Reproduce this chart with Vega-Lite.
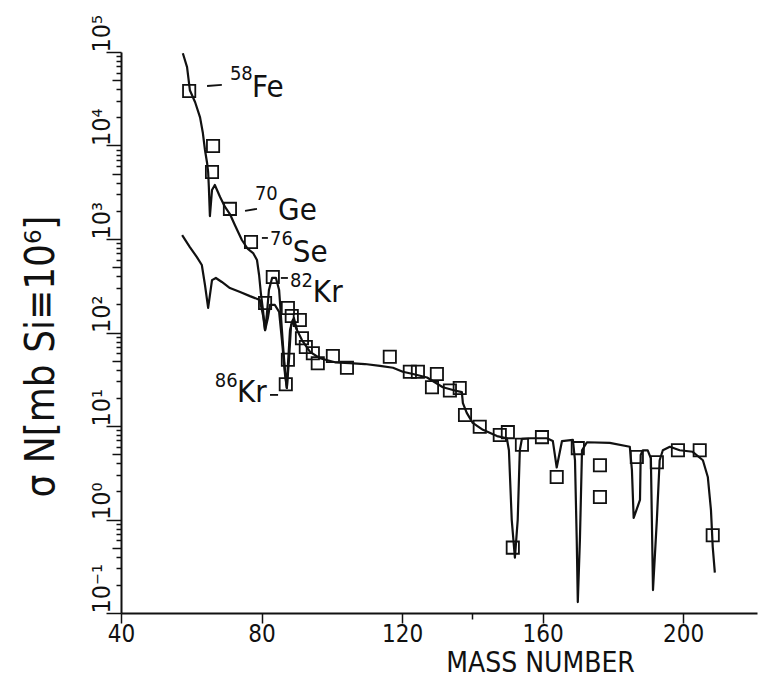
{
  "$schema": "https://vega.github.io/schema/vega-lite/v6.json",
  "width": 636,
  "height": 561,
  "autosize": {"type": "none"},
  "padding": {"left": 121, "top": 52, "right": 2, "bottom": 66},
  "background": "white",
  "config": {
    "view": {"stroke": null},
    "font": "Liberation Sans Narrow, DejaVu Sans Condensed, sans-serif",
    "axis": {"grid": false, "domainColor": "#111", "tickColor": "#111", "labelColor": "#111", "titleColor": "#111", "titleFontWeight": "normal"}
  },
  "datasets": {
    "curves": [
      {"i": 1, "s": "a", "A": 57.6, "v": 97000},
      {"i": 2, "s": "a", "A": 58.8, "v": 69000},
      {"i": 3, "s": "a", "A": 59.6, "v": 39000},
      {"i": 4, "s": "a", "A": 61.1, "v": 29000},
      {"i": 5, "s": "a", "A": 62.5, "v": 20000},
      {"i": 6, "s": "a", "A": 63.3, "v": 13600},
      {"i": 7, "s": "a", "A": 63.9, "v": 8950},
      {"i": 8, "s": "a", "A": 64.5, "v": 6500},
      {"i": 9, "s": "a", "A": 64.8, "v": 5200},
      {"i": 10, "s": "a", "A": 65.0, "v": 3600},
      {"i": 11, "s": "a", "A": 65.3, "v": 1760},
      {"i": 12, "s": "a", "A": 65.9, "v": 3340},
      {"i": 13, "s": "a", "A": 66.7, "v": 3780},
      {"i": 14, "s": "a", "A": 68.2, "v": 2810},
      {"i": 15, "s": "a", "A": 69.6, "v": 2200},
      {"i": 16, "s": "a", "A": 71.0, "v": 1850},
      {"i": 17, "s": "a", "A": 72.4, "v": 1410},
      {"i": 18, "s": "a", "A": 74.4, "v": 976},
      {"i": 19, "s": "a", "A": 76.1, "v": 782},
      {"i": 20, "s": "a", "A": 77.6, "v": 708},
      {"i": 21, "s": "a", "A": 78.7, "v": 596},
      {"i": 22, "s": "a", "A": 79.3, "v": 412},
      {"i": 23, "s": "a", "A": 79.8, "v": 264},
      {"i": 24, "s": "a", "A": 80.4, "v": 174},
      {"i": 25, "s": "a", "A": 81.0, "v": 106},
      {"i": 26, "s": "a", "A": 81.5, "v": 154},
      {"i": 27, "s": "a", "A": 82.1, "v": 285},
      {"i": 28, "s": "a", "A": 83.0, "v": 383},
      {"i": 29, "s": "a", "A": 84.1, "v": 383},
      {"i": 30, "s": "a", "A": 85.0, "v": 285},
      {"i": 31, "s": "a", "A": 85.5, "v": 154},
      {"i": 32, "s": "a", "A": 86.1, "v": 73},
      {"i": 33, "s": "a", "A": 86.7, "v": 38},
      {"i": 34, "s": "a", "A": 87.2, "v": 25.5},
      {"i": 35, "s": "a", "A": 87.5, "v": 45},
      {"i": 36, "s": "a", "A": 88.1, "v": 106},
      {"i": 37, "s": "a", "A": 88.9, "v": 136},
      {"i": 38, "s": "a", "A": 90.1, "v": 106},
      {"i": 39, "s": "a", "A": 91.5, "v": 83},
      {"i": 40, "s": "a", "A": 93.8, "v": 62},
      {"i": 41, "s": "a", "A": 96.6, "v": 53},
      {"i": 42, "s": "a", "A": 100.9, "v": 48},
      {"i": 43, "s": "a", "A": 105.1, "v": 47},
      {"i": 44, "s": "a", "A": 109.4, "v": 46},
      {"i": 45, "s": "a", "A": 113.7, "v": 44},
      {"i": 46, "s": "a", "A": 117.4, "v": 42},
      {"i": 47, "s": "a", "A": 120.2, "v": 38},
      {"i": 48, "s": "a", "A": 123.1, "v": 36},
      {"i": 49, "s": "a", "A": 127.1, "v": 33},
      {"i": 50, "s": "a", "A": 131.6, "v": 26},
      {"i": 51, "s": "a", "A": 135.0, "v": 24},
      {"i": 52, "s": "a", "A": 137.0, "v": 23},
      {"i": 53, "s": "a", "A": 137.3, "v": 17.6},
      {"i": 54, "s": "a", "A": 138.4, "v": 13.8},
      {"i": 55, "s": "a", "A": 140.1, "v": 10.8},
      {"i": 56, "s": "a", "A": 143.0, "v": 9.1},
      {"i": 57, "s": "a", "A": 147.0, "v": 7.8},
      {"i": 58, "s": "a", "A": 149.8, "v": 7.4},
      {"i": 59, "s": "a", "A": 150.4, "v": 5.5},
      {"i": 60, "s": "a", "A": 151.2, "v": 0.99},
      {"i": 61, "s": "a", "A": 152.1, "v": 0.39},
      {"i": 62, "s": "a", "A": 152.9, "v": 0.99},
      {"i": 63, "s": "a", "A": 153.5, "v": 5.5},
      {"i": 64, "s": "a", "A": 154.1, "v": 7.3},
      {"i": 65, "s": "a", "A": 156.4, "v": 7.4},
      {"i": 66, "s": "a", "A": 161.2, "v": 7.4},
      {"i": 67, "s": "a", "A": 162.9, "v": 6.9},
      {"i": 68, "s": "a", "A": 164.0, "v": 3.6},
      {"i": 69, "s": "a", "A": 165.5, "v": 6.9},
      {"i": 70, "s": "a", "A": 168.6, "v": 7.1},
      {"i": 71, "s": "a", "A": 169.2, "v": 4.3},
      {"i": 72, "s": "a", "A": 169.7, "v": 0.6},
      {"i": 73, "s": "a", "A": 170.0, "v": 0.131},
      {"i": 74, "s": "a", "A": 170.6, "v": 0.6},
      {"i": 75, "s": "a", "A": 171.2, "v": 5.5},
      {"i": 76, "s": "a", "A": 172.6, "v": 6.7},
      {"i": 77, "s": "a", "A": 179.1, "v": 6.6},
      {"i": 78, "s": "a", "A": 184.8, "v": 6.0},
      {"i": 79, "s": "a", "A": 185.4, "v": 3.4},
      {"i": 80, "s": "a", "A": 185.9, "v": 1.04},
      {"i": 81, "s": "a", "A": 187.7, "v": 1.62},
      {"i": 82, "s": "a", "A": 187.9, "v": 4.9},
      {"i": 83, "s": "a", "A": 188.5, "v": 5.5},
      {"i": 84, "s": "a", "A": 189.9, "v": 5.5},
      {"i": 85, "s": "a", "A": 190.8, "v": 4.5},
      {"i": 86, "s": "a", "A": 191.4, "v": 0.176},
      {"i": 87, "s": "a", "A": 192.5, "v": 0.99},
      {"i": 88, "s": "a", "A": 193.3, "v": 4.3},
      {"i": 89, "s": "a", "A": 194.2, "v": 5.5},
      {"i": 90, "s": "a", "A": 196.2, "v": 6.0},
      {"i": 91, "s": "a", "A": 199.0, "v": 5.5},
      {"i": 92, "s": "a", "A": 202.7, "v": 5.3},
      {"i": 93, "s": "a", "A": 205.6, "v": 4.3},
      {"i": 94, "s": "a", "A": 207.0, "v": 2.85},
      {"i": 95, "s": "a", "A": 207.9, "v": 1.26},
      {"i": 96, "s": "a", "A": 208.4, "v": 0.51},
      {"i": 97, "s": "a", "A": 209.0, "v": 0.27},
      {"i": 1, "s": "b", "A": 57.4, "v": 1100},
      {"i": 2, "s": "b", "A": 59.6, "v": 820},
      {"i": 3, "s": "b", "A": 61.6, "v": 640},
      {"i": 4, "s": "b", "A": 63.0, "v": 527},
      {"i": 5, "s": "b", "A": 63.9, "v": 322},
      {"i": 6, "s": "b", "A": 64.8, "v": 183},
      {"i": 7, "s": "b", "A": 65.9, "v": 363},
      {"i": 8, "s": "b", "A": 67.0, "v": 383},
      {"i": 9, "s": "b", "A": 68.7, "v": 347},
      {"i": 10, "s": "b", "A": 71.0, "v": 299},
      {"i": 11, "s": "b", "A": 73.9, "v": 271},
      {"i": 12, "s": "b", "A": 76.7, "v": 245},
      {"i": 13, "s": "b", "A": 79.5, "v": 223},
      {"i": 14, "s": "b", "A": 80.4, "v": 154},
      {"i": 15, "s": "b", "A": 81.0, "v": 106},
      {"i": 16, "s": "b", "A": 81.8, "v": 143},
      {"i": 17, "s": "b", "A": 82.4, "v": 197},
      {"i": 18, "s": "b", "A": 83.8, "v": 197},
      {"i": 19, "s": "b", "A": 85.0, "v": 166},
      {"i": 20, "s": "b", "A": 85.8, "v": 83},
      {"i": 21, "s": "b", "A": 86.7, "v": 35},
      {"i": 22, "s": "b", "A": 87.2, "v": 25.5},
      {"i": 23, "s": "b", "A": 87.8, "v": 51},
      {"i": 24, "s": "b", "A": 88.4, "v": 120},
      {"i": 25, "s": "b", "A": 89.2, "v": 143},
      {"i": 26, "s": "b", "A": 90.1, "v": 106}
    ],
    "squares": [
      {"A": 59.4, "v": 38300},
      {"A": 66.2, "v": 9900},
      {"A": 65.9, "v": 5200},
      {"A": 71.0, "v": 2100},
      {"A": 77.0, "v": 930},
      {"A": 81.0, "v": 207},
      {"A": 83.2, "v": 393},
      {"A": 87.5, "v": 183},
      {"A": 88.6, "v": 150},
      {"A": 90.9, "v": 136},
      {"A": 87.5, "v": 51},
      {"A": 86.9, "v": 28},
      {"A": 91.5, "v": 87},
      {"A": 92.6, "v": 70},
      {"A": 94.6, "v": 60},
      {"A": 96.0, "v": 47},
      {"A": 100.3, "v": 56},
      {"A": 104.3, "v": 42},
      {"A": 116.5, "v": 55},
      {"A": 122.2, "v": 38},
      {"A": 124.5, "v": 38},
      {"A": 129.9, "v": 36},
      {"A": 128.5, "v": 26},
      {"A": 133.6, "v": 24},
      {"A": 136.4, "v": 25.5},
      {"A": 137.9, "v": 13.1},
      {"A": 142.1, "v": 9.8},
      {"A": 147.8, "v": 8.0},
      {"A": 150.1, "v": 8.6},
      {"A": 154.1, "v": 6.3},
      {"A": 151.5, "v": 0.5},
      {"A": 159.8, "v": 7.6},
      {"A": 164.0, "v": 2.85},
      {"A": 170.0, "v": 5.8},
      {"A": 176.3, "v": 3.8},
      {"A": 176.3, "v": 1.74},
      {"A": 186.8, "v": 4.65},
      {"A": 192.5, "v": 4.1},
      {"A": 198.5, "v": 5.5},
      {"A": 204.7, "v": 5.5},
      {"A": 208.4, "v": 0.68}
    ],
    "labels": [
      {"kind": "main", "t": "Fe", "A": 77.3, "v": 33000},
      {"kind": "sup", "t": "58", "A": 71.0, "v": 50000},
      {"kind": "main", "t": "Ge", "A": 84.7, "v": 1600},
      {"kind": "sup", "t": "70", "A": 78.1, "v": 2610},
      {"kind": "main", "t": "Se", "A": 88.9, "v": 568},
      {"kind": "sup", "t": "76", "A": 82.4, "v": 863},
      {"kind": "main", "t": "Kr", "A": 94.6, "v": 212},
      {"kind": "sup", "t": "82", "A": 88.1, "v": 307},
      {"kind": "main", "t": "Kr", "A": 73.0, "v": 18.1},
      {"kind": "sup", "t": "86", "A": 66.7, "v": 26.1}
    ],
    "dashes": [
      {"A": 64.5, "A2": 68.7, "v": 43300, "v2": 44500},
      {"A": 75.3, "A2": 78.7, "v": 2000, "v2": 2100},
      {"A": 80.1, "A2": 81.8, "v": 1026, "v2": 1026},
      {"A": 85.5, "A2": 87.5, "v": 383, "v2": 383},
      {"A": 82.4, "A2": 84.7, "v": 21.5, "v2": 21.5}
    ]
  },
  "layer": [
    {
      "data": {"name": "curves"},
      "mark": {"type": "line", "color": "#111", "strokeWidth": 2.2, "strokeJoin": "round"},
      "encoding": {
        "x": {
          "field": "A", "type": "quantitative",
          "scale": {"domain": [40, 221], "nice": false, "zero": false},
          "axis": {
            "values": [40, 80, 120, 140, 160, 200],
            "labelExpr": "datum.value == 140 ? '' : datum.label",
            "tickSize": {"condition": {"test": "datum.value == 140", "value": 6}, "value": 10},
            "tickWidth": 1.5,
            "domainWidth": 2,
            "labelFontSize": 24,
            "labelPadding": -1,
            "labelFlush": false,
            "labelOverlap": false,
            "title": "MASS NUMBER",
            "titleFontSize": 28,
            "titleX": 419,
            "titleY": 58,
            "titleAlign": "center",
            "titleBaseline": "alphabetic"
          }
        },
        "y": {
          "field": "v", "type": "quantitative",
          "scale": {"type": "log", "domain": [0.1, 100000], "nice": false},
          "axis": {
            "values": [0.1,0.2,0.3,0.4,0.5,0.6,0.7,0.8,0.9,1,2,3,4,5,6,7,8,9,10,20,30,40,50,60,70,80,90,100,200,300,400,500,600,700,800,900,1000,2000,3000,4000,5000,6000,7000,8000,9000,10000,20000,30000,40000,50000,60000,70000,80000,90000,100000],
            "labelExpr": "datum.value == 100000 ? '10⁵' : datum.value == 10000 ? '10⁴' : datum.value == 1000 ? '10³' : datum.value == 100 ? '10²' : datum.value == 10 ? '10¹' : datum.value == 1 ? '10⁰' : datum.value == 0.1 ? '10⁻¹' : ''",
            "tickSize": {"condition": [
              {"test": "abs(log(datum.value)/LN10 - round(log(datum.value)/LN10)) < 0.001", "value": 15},
              {"test": "abs(datum.value / pow(10, floor(log(datum.value)/LN10 + 0.0001)) - 5) < 0.01", "value": 9}
            ], "value": 5},
            "tickWidth": 1.5,
            "domainWidth": 2,
            "labelAngle": -90,
            "labelAlign": "left",
            "labelBaseline": "bottom",
            "labelFontSize": 25,
            "labelPadding": -8,
            "labelFlush": false,
            "labelOverlap": false,
            "title": "σ N[mb Si≡10⁶]",
            "titleFontSize": 40,
            "titleAngle": -90,
            "titleX": -80,
            "titleY": 304,
            "titleAlign": "center",
            "titleBaseline": "middle"
          }
        },
        "detail": {"field": "s"},
        "order": {"field": "i", "type": "quantitative"}
      }
    },
    {
      "data": {"name": "squares"},
      "mark": {"type": "point", "shape": "square", "filled": false, "color": "#111", "opacity": 1, "size": 150, "strokeWidth": 1.8},
      "encoding": {
        "x": {"field": "A", "type": "quantitative"},
        "y": {"field": "v", "type": "quantitative"}
      }
    },
    {
      "data": {"name": "dashes"},
      "mark": {"type": "rule", "color": "#111", "strokeWidth": 1.8},
      "encoding": {
        "x": {"field": "A", "type": "quantitative"},
        "x2": {"field": "A2"},
        "y": {"field": "v", "type": "quantitative"},
        "y2": {"field": "v2"}
      }
    },
    {
      "data": {"name": "labels"},
      "transform": [{"filter": "datum.kind == 'main'"}],
      "mark": {"type": "text", "align": "left", "baseline": "alphabetic", "fontSize": 31, "color": "#111"},
      "encoding": {
        "x": {"field": "A", "type": "quantitative"},
        "y": {"field": "v", "type": "quantitative"},
        "text": {"field": "t"}
      }
    },
    {
      "data": {"name": "labels"},
      "transform": [{"filter": "datum.kind == 'sup'"}],
      "mark": {"type": "text", "align": "left", "baseline": "alphabetic", "fontSize": 20, "color": "#111"},
      "encoding": {
        "x": {"field": "A", "type": "quantitative"},
        "y": {"field": "v", "type": "quantitative"},
        "text": {"field": "t"}
      }
    }
  ]
}
